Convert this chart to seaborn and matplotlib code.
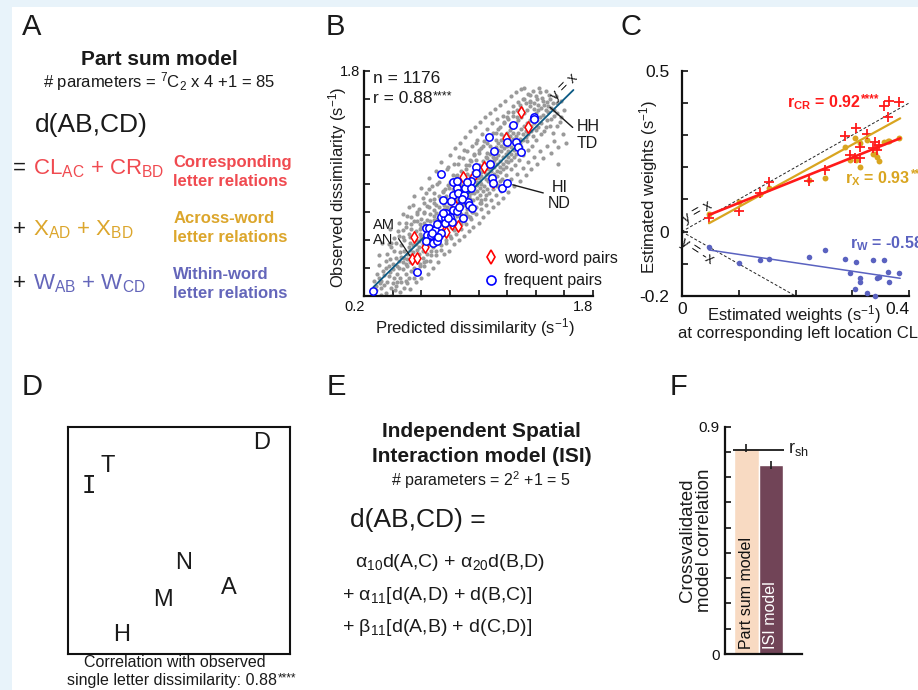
import matplotlib
matplotlib.use('Agg')
import matplotlib.pyplot as plt
from matplotlib.patches import Rectangle
from matplotlib.lines import Line2D
import numpy as np
import pandas as pd
import seaborn as sns

# ---------------- data ----------------
# Panel B: observed vs predicted dissimilarity (all pairs, grey cloud) - core of cloud
gray_pts = [
    (0.26,0.22),(0.27,0.31),
    (0.28,0.27),(0.29,0.36),(0.28,0.24),
    (0.30,0.33),(0.31,0.29),(0.30,0.42),
    (0.32,0.26),(0.33,0.38),(0.32,0.31),
    (0.34,0.35),(0.35,0.45),(0.34,0.28),(0.35,0.40),
    (0.36,0.30),(0.37,0.41),(0.36,0.50),(0.37,0.34),
    (0.38,0.37),(0.39,0.26),(0.38,0.46),(0.39,0.55),
    (0.40,0.43),(0.41,0.33),(0.40,0.39),(0.41,0.52),(0.40,0.29),
    (0.42,0.47),(0.43,0.36),(0.42,0.58),(0.43,0.41),(0.42,0.27),
    (0.44,0.40),(0.45,0.51),(0.44,0.45),(0.45,0.33),(0.44,0.63),
    (0.46,0.48),(0.47,0.39),(0.46,0.56),(0.47,0.44),(0.46,0.30),(0.47,0.67),
    (0.48,0.52),(0.49,0.43),(0.48,0.60),(0.49,0.36),(0.48,0.47),(0.49,0.72),
    (0.50,0.46),(0.51,0.55),(0.50,0.41),(0.51,0.64),(0.50,0.50),(0.51,0.33),(0.50,0.77),
    (0.52,0.58),(0.53,0.49),(0.52,0.44),(0.53,0.68),(0.52,0.53),(0.53,0.38),(0.52,0.62),
    (0.54,0.51),(0.55,0.61),(0.54,0.47),(0.55,0.73),(0.54,0.56),(0.55,0.40),(0.54,0.85),
    (0.56,0.60),(0.57,0.53),(0.56,0.66),(0.57,0.45),(0.56,0.57),(0.57,0.78),(0.56,0.36),
    (0.58,0.55),(0.59,0.64),(0.58,0.50),(0.59,0.71),(0.58,0.59),(0.59,0.43),(0.58,0.82),(0.59,0.68),
    (0.60,0.63),(0.61,0.57),(0.60,0.69),(0.61,0.52),(0.60,0.75),(0.61,0.47),(0.60,0.61),(0.61,0.90),
    (0.62,0.59),(0.63,0.67),(0.62,0.72),(0.63,0.54),(0.62,0.80),(0.63,0.63),(0.62,0.44),(0.63,0.70),
    (0.64,0.66),(0.65,0.61),(0.64,0.74),(0.65,0.57),(0.64,0.84),(0.65,0.69),(0.64,0.50),(0.65,0.96),
    (0.66,0.70),(0.67,0.64),(0.66,0.78),(0.67,0.59),(0.66,0.73),(0.67,0.52),(0.66,0.88),(0.67,0.67),
    (0.68,0.65),(0.69,0.74),(0.68,0.69),(0.69,0.81),(0.68,0.60),(0.69,0.77),(0.68,0.55),(0.69,0.93),
    (0.70,0.72),(0.71,0.67),(0.70,0.79),(0.71,0.63),(0.70,0.85),(0.71,0.75),(0.70,0.57),(0.71,1.00),(0.70,0.70),
    (0.72,0.76),(0.73,0.70),(0.72,0.83),(0.73,0.66),(0.72,0.73),(0.73,0.89),(0.72,0.60),(0.73,0.79),
    (0.74,0.71),(0.75,0.80),(0.74,0.75),(0.75,0.87),(0.74,0.68),(0.75,0.94),(0.74,0.62),(0.75,0.78),(0.74,1.06),
    (0.76,0.79),(0.77,0.73),(0.76,0.85),(0.77,0.70),(0.76,0.82),(0.77,0.91),(0.76,0.64),(0.77,0.77),
    (0.78,0.83),(0.79,0.76),(0.78,0.88),(0.79,0.72),(0.78,0.80),(0.79,0.97),(0.78,0.67),(0.79,0.86),(0.78,1.10),
    (0.80,0.81),(0.81,0.87),(0.80,0.77),(0.81,0.92),(0.80,0.74),(0.81,0.84),(0.80,1.01),(0.81,0.69),(0.80,0.89),
    (0.82,0.86),(0.83,0.79),(0.82,0.90),(0.83,0.83),(0.82,0.96),(0.83,0.75),(0.82,0.88),(0.83,1.14),(0.82,0.71),
    (0.84,0.85),(0.85,0.93),(0.84,0.81),(0.85,0.89),(0.84,1.00),(0.85,0.77),(0.84,0.87),(0.85,0.68),(0.84,1.05),
    (0.86,0.90),(0.87,0.84),(0.86,0.95),(0.87,0.88),(0.86,0.80),(0.87,1.03),(0.86,0.92),(0.87,0.74),(0.86,1.19),
    (0.88,0.93),(0.89,0.87),(0.88,0.99),(0.89,0.91),(0.88,0.83),(0.89,1.07),(0.88,0.78),(0.89,0.96),(0.88,0.71),
    (0.90,0.92),(0.91,0.97),(0.90,0.88),(0.91,1.02),(0.90,0.85),(0.91,1.10),(0.90,0.95),(0.91,0.79),(0.90,1.24),
    (0.92,0.96),(0.93,0.91),(0.92,1.01),(0.93,0.94),(0.92,0.87),(0.93,1.13),(0.92,0.82),(0.93,0.99),(0.92,1.07),
    (0.94,0.99),(0.95,0.93),(0.94,1.05),(0.95,0.97),(0.94,0.89),(0.95,1.16),(0.94,0.85),(0.95,1.02),(0.94,0.76),
    (0.96,1.01),(0.97,0.97),(0.96,1.08),(0.97,0.93),(0.96,1.03),(0.97,1.20),(0.96,0.88),(0.97,1.12),(0.96,0.80),
    (0.98,1.04),(0.99,0.99),(0.98,1.11),(0.99,0.95),(0.98,1.07),(0.99,0.90),(0.98,1.17),(0.99,1.01),(0.98,1.29),
    (1.00,1.06),(1.01,1.01),(1.00,1.13),(1.01,0.97),(1.00,1.09),(1.01,0.92),(1.00,1.22),(1.01,0.86),(1.00,1.04),
    (1.02,1.05),(1.03,1.10),(1.02,1.00),(1.03,1.16),(1.02,1.08),(1.03,0.95),(1.02,1.25),(1.03,1.13),(1.02,0.88),
    (1.04,1.09),(1.05,1.03),(1.04,1.14),(1.05,1.19),(1.04,0.98),(1.05,1.07),(1.04,1.30),(1.05,0.92),(1.04,1.11),
    (1.06,1.12),(1.07,1.07),(1.06,1.18),(1.07,1.02),(1.06,1.22),(1.07,1.10),(1.06,0.96),(1.07,1.33),
    (1.08,1.13),(1.09,1.09),(1.08,1.21),(1.09,1.05),(1.08,1.16),(1.09,0.99),(1.08,1.27),(1.09,1.11),
    (1.10,1.15),(1.11,1.12),(1.10,1.24),(1.11,1.07),(1.10,1.19),(1.11,1.02),(1.10,1.36),(1.11,1.17),
    (1.12,1.18),(1.13,1.14),(1.12,1.26),(1.13,1.09),(1.12,1.22),(1.13,1.05),(1.12,1.31),(1.13,0.98),
    (1.14,1.20),(1.15,1.16),(1.14,1.29),(1.15,1.12),(1.14,1.24),(1.15,1.08),(1.14,1.39),(1.15,1.02),
    (1.16,1.23),(1.17,1.19),(1.16,1.31),(1.17,1.14),(1.16,1.27),(1.17,1.10),(1.16,1.35),
    (1.18,1.25),(1.19,1.21),(1.18,1.34),(1.19,1.16),(1.18,1.29),(1.19,1.12),(1.18,1.43),
    (1.20,1.27),(1.21,1.23),(1.20,1.36),(1.21,1.19),(1.20,1.31),(1.21,1.15),(1.20,1.47),
    (1.22,1.30),(1.23,1.26),(1.22,1.38),(1.23,1.21),(1.22,1.34),(1.23,1.17),(1.22,1.41),
    (1.24,1.32),(1.25,1.28),(1.24,1.40),(1.25,1.24),(1.24,1.36),(1.25,1.19),(1.24,1.51),
    (1.26,1.34),(1.27,1.30),(1.26,1.43),(1.27,1.26),(1.26,1.21),(1.27,1.47),
    (1.28,1.36),(1.29,1.32),(1.28,1.45),(1.29,1.29),(1.28,1.24),(1.29,1.56),
    (1.30,1.39),(1.31,1.35),(1.30,1.47),(1.31,1.31),(1.30,1.26),(1.31,1.60),
    (1.32,1.41),(1.33,1.37),(1.32,1.50),(1.33,1.33),(1.32,1.68),
    (1.34,1.43),(1.35,1.39),(1.34,1.52),(1.35,1.35),(1.34,1.30),
    (1.36,1.45),(1.37,1.41),(1.36,1.55),(1.37,1.37),(1.36,1.63),
    (1.38,1.47),(1.39,1.43),(1.38,1.34),(1.39,1.57),
    (1.40,1.50),(1.41,1.45),(1.40,1.38),(1.41,1.60),
    (1.42,1.52),(1.43,1.47),(1.42,1.40),(1.43,1.65),
    (1.44,1.54),(1.45,1.49),(1.44,1.43),
    (1.46,1.56),(1.47,1.52),(1.46,1.37),
    (1.48,1.58),(1.49,1.51),(1.48,1.45),
    (1.50,1.60),(1.51,1.54),(1.50,1.41),
    (1.52,1.57),(1.53,1.48),
    (1.54,1.62),(1.55,1.50),
    (1.56,1.14),(1.57,1.44),
    (1.58,1.59),(1.60,1.52),
]
# intermediate ring of the grey cloud
gray_mid = [
    (0.39,0.58),(0.43,0.30),(0.47,0.62),(0.49,0.31),(0.53,0.71),(0.55,0.37),(0.57,0.73),(0.59,0.41),
    (0.615,0.79),(0.63,0.45),(0.65,0.83),(0.665,0.49),(0.685,0.86),(0.70,0.52),(0.72,0.91),(0.735,0.56),
    (0.75,0.95),(0.77,0.60),(0.785,0.99),(0.80,0.63),(0.815,1.02),(0.83,0.67),(0.85,1.06),(0.865,0.70),
    (0.88,1.09),(0.895,0.73),(0.91,1.13),(0.925,0.77),(0.94,1.17),(0.955,0.80),(0.97,1.21),(0.985,0.83),
    (1.00,1.24),(1.015,0.86),(1.03,1.27),(1.045,0.89),(1.06,1.29),(1.075,0.93),(1.09,1.33),(1.105,0.96),
    (1.12,1.36),(1.135,0.99),(1.15,1.40),(1.165,1.03),(1.18,1.44),(1.195,1.06),(1.21,1.46),(1.225,1.10),
    (1.24,1.48),(1.255,1.13),(1.27,1.52),(1.285,1.17),(1.30,1.54),(1.315,1.20),(1.33,1.57),(1.345,1.24),
    (1.36,1.59),(1.375,1.27),(1.39,1.53),(1.405,1.31),(1.42,1.56),(1.435,1.35),(1.45,1.59),(1.47,1.40),
    (1.49,1.55),(1.51,1.46),(1.53,1.52),(1.55,1.57),
]
# sparse outer fringe of the grey cloud
gray_outer = [
    (0.30,0.49),(0.32,0.21),(0.325,0.58),(0.35,0.22),
    (0.37,0.57),(0.38,0.68),(0.385,0.20),(0.41,0.61),
    (0.415,0.24),(0.44,0.72),(0.435,0.66),(0.45,0.23),
    (0.47,0.78),(0.475,0.26),(0.49,0.69),(0.50,0.29),
    (0.515,0.83),(0.52,0.25),(0.53,0.76),(0.545,0.33),
    (0.55,0.91),(0.565,0.30),(0.57,0.80),(0.58,0.37),
    (0.595,0.97),(0.60,0.33),(0.615,0.86),(0.62,0.41),
    (0.63,0.93),(0.645,0.36),(0.65,1.04),(0.66,0.45),
    (0.675,0.98),(0.68,0.40),(0.69,0.89),(0.70,0.49),
    (0.705,1.09),(0.715,0.44),(0.725,1.01),(0.735,0.53),
    (0.74,1.15),(0.755,0.50),(0.765,0.96),(0.77,0.58),
    (0.785,1.12),(0.79,0.52),(0.80,1.20),(0.805,0.61),
    (0.82,1.06),(0.825,0.57),(0.835,1.25),(0.845,0.64),
    (0.855,1.14),(0.86,0.60),(0.87,1.29),(0.875,0.68),
    (0.89,1.18),(0.895,0.63),(0.905,1.33),(0.915,0.71),
    (0.92,1.23),(0.93,0.66),(0.94,1.37),(0.945,0.75),
    (0.955,1.27),(0.96,0.69),(0.975,1.40),(0.98,0.78),
    (0.99,1.31),(1.00,0.72),(1.01,1.44),(1.015,0.82),
    (1.025,1.35),(1.035,0.76),(1.045,1.47),(1.05,0.85),
    (1.06,1.39),(1.07,0.80),(1.08,1.50),(1.09,0.88),
    (1.095,1.43),(1.105,0.83),(1.115,1.53),(1.12,0.92),
    (1.13,1.46),(1.14,0.86),(1.15,1.56),(1.16,0.95),
    (1.17,1.48),(1.175,0.90),(1.185,1.59),(1.195,0.99),
    (1.205,1.51),(1.21,0.94),(1.225,1.62),(1.23,1.03),
    (1.24,1.55),(1.25,0.98),(1.26,1.65),(1.27,1.07),
    (1.28,1.58),(1.29,1.02),(1.30,1.67),(1.31,1.11),
    (1.32,1.60),(1.33,1.06),(1.345,1.64),(1.35,1.15),
    (1.36,1.58),(1.37,1.10),(1.385,1.66),(1.39,1.19),
    (1.40,1.62),(1.41,1.14),(1.425,1.68),(1.43,1.23),
    (1.445,1.61),(1.455,1.18),(1.47,1.66),(1.48,1.27),
    (1.495,1.63),(1.505,1.22),(1.52,1.36),(1.53,1.30),
    (1.55,1.41),(1.56,1.26),(1.575,1.47),(1.59,1.35),(1.61,1.29),
]
gray_all = gray_pts + gray_mid + gray_outer
gray_pred = [p[0] for p in gray_all]
gray_obs = [p[1] for p in gray_all]

# frequent pairs (blue circles)
freq_pred = [0.263, 0.571, 0.735, 0.632, 0.656, 0.695, 0.712, 0.735, 0.765, 0.772,
             0.800, 0.637, 0.665, 0.677, 0.630, 0.684, 0.712, 0.737, 0.719, 0.765,
             0.812, 0.754, 0.824, 0.847, 0.819, 0.847, 0.859, 0.898, 0.905, 0.929,
             0.936, 0.952, 0.894, 0.824, 0.847, 0.947, 0.947, 0.980, 0.983, 1.092,
             1.111, 1.081, 1.074, 1.162, 1.202, 1.197, 1.240, 1.263, 1.279, 1.296,
             1.389, 1.389, 0.882, 0.863, 0.805, 0.789, 0.749, 0.917, 1.099]
freq_obs = [0.238, 0.368, 1.065, 0.686, 0.686, 0.669, 0.712, 0.759, 0.752, 0.788,
            0.764, 0.634, 0.634, 0.650, 0.591, 0.579, 0.593, 0.646, 0.617, 0.721,
            0.729, 0.883, 0.812, 0.807, 0.918, 0.966, 0.935, 0.918, 0.966, 0.871,
            0.847, 0.823, 0.752, 1.013, 1.018, 1.018, 0.970, 1.120, 1.072, 1.041,
            1.231, 1.139, 1.328, 0.970, 1.001, 1.297, 1.416, 1.297, 1.262, 1.226,
            1.475, 1.461, 0.887, 0.835, 0.876, 0.752, 0.788, 1.013, 1.006]
# word-word pairs (red diamonds)
word_pred = [0.550, 0.536, 0.567, 0.625, 0.672, 0.730, 0.859, 0.828, 0.889,
             0.959, 1.041, 1.104, 1.193, 1.298, 1.349, 0.812, 0.852, 0.772]
word_obs = [0.617, 0.461, 0.468, 0.551, 0.634, 0.693, 0.700, 0.854, 1.049,
            1.049, 1.120, 1.013, 1.321, 1.506, 1.404, 0.710, 0.973, 0.657]
diag_ends = [0.263, 1.665]
b_ticks = [0.2, 0.4, 0.6, 0.8, 1.0, 1.2, 1.4, 1.6, 1.8]

# Panel C: estimated weights vs CL weights
cl_w = [0.048, 0.101, 0.138, 0.153, 0.223, 0.251, 0.287, 0.296, 0.305, 0.306, 0.313,
        0.314, 0.325, 0.337, 0.340, 0.343, 0.347, 0.355, 0.363, 0.365, 0.382]
cr_w = [0.043, 0.065, 0.119, 0.154, 0.158, 0.192, 0.297, 0.238, 0.230, 0.321, 0.262,
        0.230, 0.303, 0.259, 0.280, 0.254, 0.269, 0.391, 0.355, 0.406, 0.404]
x_w = [0.055, 0.093, 0.117, 0.135, 0.160, 0.166, 0.262, 0.223, 0.292, 0.223, 0.274,
       0.200, 0.285, 0.241, 0.241, 0.233, 0.220, 0.278, 0.282, 0.282, 0.290]
w_w = [-0.047, -0.098, -0.088, -0.085, -0.078, -0.057, -0.085, -0.129, -0.178, -0.095, -0.143,
       -0.157, -0.192, -0.088, -0.200, -0.143, -0.140, -0.088, -0.124, -0.155, -0.129]
fit_x = [0.048, 0.384]
cr_fit = [0.052, 0.290]
x_fit = [0.026, 0.352]
w_fit = [-0.057, -0.145]
ident_x = [0.0, 0.4]
negident_x = [0.0, 0.2]

# Panel D: MDS letter positions
mds_letters = ['D', 'T', 'I', 'N', 'A', 'M', 'H']
mds_x = [0.873, 0.178, 0.093, 0.523, 0.727, 0.430, 0.243]
mds_y = [0.927, 0.827, 0.739, 0.402, 0.289, 0.238, 0.084]

# Panel F: crossvalidated model correlation
models = ['Part sum model', 'ISI model']
model_corr = [0.814, 0.748]
corr_lo = [0.801, 0.731]
corr_hi = [0.830, 0.764]
r_sh = 0.806

# ---------------- style ----------------
sns.set_theme(style='ticks')
plt.rcParams['font.family'] = ['Liberation Sans', 'DejaVu Sans']
plt.rcParams.update({
    'mathtext.fontset': 'custom',
    'mathtext.rm': 'Liberation Sans',
    'mathtext.it': 'Liberation Sans:italic',
    'mathtext.bf': 'Liberation Sans:bold',
    'mathtext.default': 'rm',
    'text.color': '#1a1a1a',
})

RED_A, GOLD_A, BLUE_A = '#F04A50', '#DCA62C', '#6466BA'
RED_C, GOLD_C, BLUE_C = '#FF1A1A', '#D9A520', '#5A62C0'

W, H = 918, 690
fig = plt.figure(figsize=(W / 100, H / 100), dpi=100)
fig.patch.set_facecolor('#E8F3FA')
fig.add_artist(Rectangle((12 / W, 0), 1, 1 - 7 / H, transform=fig.transFigure,
                         facecolor='white', edgecolor='none', zorder=-10))


def ftext(x, y, s, **kw):
    kw.setdefault('va', 'baseline')
    return fig.text(x / W, 1 - y / H, s, **kw)


def stars(ax, t, s, fontsize, **kw):
    """small raised significance stars right after text t"""
    return ax.annotate(s, xy=(1.0, 1.0), xycoords=t, xytext=(0.3, 0.5),
                       textcoords='offset points', ha='left', va='top',
                       fontsize=fontsize, annotation_clip=False, **kw)


def axes_px(l, t, r, b):
    return fig.add_axes([l / W, 1 - b / H, (r - l) / W, (b - t) / H])


# panel letters
for lab, x, y in [('A', 21.7, 35), ('B', 326, 35), ('C', 620, 35),
                  ('D', 21.7, 395), ('E', 327, 395), ('F', 670, 395)]:
    ftext(x, y, lab, fontsize=21)

# ---------------- Panel A (text) ----------------
ftext(159.7, 65, 'Part sum model', ha='center', fontsize=15, fontweight='bold')
ftext(159, 87.3, '# parameters = $^{7}$C$_{2}$ x 4 +1 = 85', ha='center', fontsize=12)
ftext(35, 131.7, 'd(AB,CD)', fontsize=19)
ftext(12.7, 174, '=', fontsize=16)
ftext(33.3, 174, 'CL$_{AC}$ + CR$_{BD}$', fontsize=16, color=RED_A)
ftext(173.3, 166.7, 'Corresponding', fontsize=12, fontweight='bold', color=RED_A)
ftext(173.3, 186, 'letter relations', fontsize=12, fontweight='bold', color=RED_A)
ftext(12.7, 235, '+', fontsize=16)
ftext(33.3, 235, 'X$_{AD}$ + X$_{BD}$', fontsize=16, color=GOLD_A)
ftext(173.3, 222.7, 'Across-word', fontsize=12, fontweight='bold', color=GOLD_A)
ftext(173.3, 242.3, 'letter relations', fontsize=12, fontweight='bold', color=GOLD_A)
ftext(12.7, 289.3, '+', fontsize=16)
ftext(33.3, 289.3, 'W$_{AB}$ + W$_{CD}$', fontsize=16, color=BLUE_A)
ftext(173.3, 279.3, 'Within-word', fontsize=12, fontweight='bold', color=BLUE_A)
ftext(173.3, 297.7, 'letter relations', fontsize=12, fontweight='bold', color=BLUE_A)

# ---------------- Panel B ----------------
axB = axes_px(364.3, 71, 592.7, 296)
sns.scatterplot(x=gray_pred, y=gray_obs, ax=axB, color='#9A9A9A', s=9, linewidth=0,
                legend=False, zorder=2)
sns.lineplot(x=diag_ends, y=diag_ends, ax=axB, color='#0B5A84', linewidth=1.3, zorder=3)
sns.scatterplot(x=word_pred, y=word_obs, ax=axB, marker='d', s=34, color='white',
                edgecolor='#FF0000', linewidth=1.1, legend=False, zorder=4)
sns.scatterplot(x=freq_pred, y=freq_obs, ax=axB, marker='o', s=28, color='white',
                edgecolor='#0000FF', linewidth=1.1, legend=False, zorder=5)
axB.set_xlim(0.2, 1.8)
axB.set_ylim(0.2, 1.8)
sns.despine(ax=axB)
for sp in ['left', 'bottom']:
    axB.spines[sp].set_linewidth(1.6)
    axB.spines[sp].set_color('#111111')
axB.set_xticks(b_ticks)
axB.set_xticklabels(['0.2'] + [''] * 7 + ['1.8'], ha='right')
axB.set_yticks(b_ticks)
axB.set_yticklabels([''] * 8 + ['1.8'])
axB.tick_params(direction='in', length=4, width=1.2, labelsize=10.5, pad=3, colors='#111111')
axB.set_xlabel('')
axB.set_ylabel('')
ftext(338, 187, 'Observed dissimilarity (s$^{-1}$)', rotation=90, ha='center', va='center', fontsize=12)
ftext(475, 333.5, 'Predicted dissimilarity (s$^{-1}$)', ha='center', fontsize=12)
ftext(373.3, 83.3, 'n = 1176', fontsize=12.5)
tr = ftext(373.3, 103.3, 'r = 0.88', fontsize=12.5)
stars(axB, tr, '****', 9)
axB.text(1.60, 1.69, 'y = x', rotation=45, ha='center', va='center', fontsize=10.5,
         rotation_mode='anchor')
axB.annotate('HH\nTD', xy=(1.501, 1.542), xytext=(1.69, 1.345), textcoords='data',
             ha='left', va='center', fontsize=11.5, linespacing=1.1,
             arrowprops=dict(arrowstyle='-', color='k', lw=1.0, shrinkA=1, shrinkB=0,
                             relpos=(0.0, 0.62)))
axB.annotate('HI\nND', xy=(freq_pred[44], freq_obs[44]), xytext=(1.566, 0.913),
             textcoords='data', ha='center', va='center', fontsize=11.5, linespacing=1.1,
             multialignment='center',
             arrowprops=dict(arrowstyle='-', color='k', lw=1.0, shrinkA=1, shrinkB=4,
                             relpos=(0.0, 0.55)))
axB.annotate('AM\nAN', xy=(word_pred[1], word_obs[1]), xytext=(0.263, 0.653),
             textcoords='data', ha='left', va='center', fontsize=10.5, linespacing=1.1,
             arrowprops=dict(arrowstyle='-', color='k', lw=0.9, shrinkA=0, shrinkB=3,
                             relpos=(1.0, 0.45)))
handles = [Line2D([], [], marker='d', ls='', mec='#FF0000', mfc='white', ms=7, mew=1.2),
           Line2D([], [], marker='o', ls='', mec='#0000FF', mfc='white', ms=6.5, mew=1.2)]
leg = axB.legend(handles, ['word-word pairs', 'frequent pairs'], loc='upper left',
                 bbox_to_anchor=(0.53, 0.2), frameon=False, fontsize=11.5,
                 handlelength=0.7, handletextpad=0.45, borderpad=0, borderaxespad=0,
                 labelspacing=0.45)
leg.set_clip_on(False)

# ---------------- Panel C ----------------
axC = axes_px(681.7, 70.7, 909.3, 296)
sns.lineplot(x=ident_x, y=ident_x, ax=axC, color='#222222', linewidth=0.7,
             linestyle=(0, (3, 2)), zorder=2)
sns.lineplot(x=negident_x, y=[-v for v in negident_x], ax=axC, color='#222222',
             linewidth=0.7, linestyle=(0, (3, 2)), zorder=2)
sns.scatterplot(x=cl_w, y=x_w, ax=axC, s=18, color=GOLD_C, linewidth=0, legend=False, zorder=3)
sns.scatterplot(x=cl_w, y=w_w, ax=axC, s=16, color=BLUE_C, linewidth=0, legend=False,
                zorder=3, clip_on=False)
sns.scatterplot(x=cl_w, y=cr_w, ax=axC, marker='+', s=45, color=RED_C, linewidth=1.3,
                legend=False, zorder=4)
sns.lineplot(x=fit_x, y=x_fit, ax=axC, color=GOLD_C, linewidth=1.6, zorder=5)
sns.lineplot(x=fit_x, y=cr_fit, ax=axC, color=RED_C, linewidth=1.9, zorder=6)
sns.lineplot(x=fit_x, y=w_fit, ax=axC, color=BLUE_C, linewidth=1.1, zorder=5)
axC.set_xlim(0, 0.4)
axC.set_ylim(-0.2, 0.5)
sns.despine(ax=axC)
for sp in ['left', 'bottom']:
    axC.spines[sp].set_linewidth(1.6)
    axC.spines[sp].set_color('#111111')
axC.set_yticks([-0.2, -0.1, 0, 0.1, 0.2, 0.3, 0.4, 0.5])
axC.set_yticklabels(['-0.2', '', '0', '', '', '', '', '0.5'])
axC.set_xticks([0, 0.1, 0.2, 0.3, 0.4])
axC.set_xticklabels(['0', '', '', '', '0.4'])
axC.get_xticklabels()[-1].set_ha('right')
axC.tick_params(direction='in', length=4, width=1.2, labelsize=12.5, colors='#111111')
axC.tick_params(axis='y', pad=9)
axC.tick_params(axis='x', pad=4)
axC.set_xlabel('')
axC.set_ylabel('')
axC.text(0.028, 0.062, 'y = x', rotation=30, ha='center', va='center', fontsize=10.5,
         rotation_mode='anchor')
axC.text(0.027, -0.060, 'y = -x', rotation=-33, ha='center', va='center', fontsize=10.5,
         rotation_mode='anchor')
ftext(649, 187, 'Estimated weights (s$^{-1}$)', rotation=90, ha='center', va='center', fontsize=12)
ftext(794, 320, 'Estimated weights (s$^{-1}$)', ha='center', fontsize=12)
ftext(798, 338, 'at corresponding left location CL', ha='center', fontsize=12)
t1 = ftext(786.7, 107.5, r'r$_{\mathbf{CR}}$ = 0.92', fontsize=11.5, fontweight='bold', color=RED_C)
stars(axC, t1, '****', 8.5, color=RED_C, fontweight='bold')
t2 = ftext(845, 183.3, r'r$_{\mathbf{X}}$ = 0.93', fontsize=11.5, fontweight='bold', color=GOLD_C)
stars(axC, t2, '****', 8.5, color=GOLD_C, fontweight='bold')
t3 = ftext(850, 248, r'r$_{\mathbf{W}}$ = -0.58', fontsize=11.5, fontweight='bold', color=BLUE_C)
stars(axC, t3, '*', 8.5, color=BLUE_C, fontweight='bold')

# ---------------- Panel D ----------------
axD = axes_px(67.7, 426.7, 290, 654)
axD.set_xlim(0, 1)
axD.set_ylim(0, 1)
axD.set_xticks([])
axD.set_yticks([])
for sp in axD.spines.values():
    sp.set_visible(True)
    sp.set_linewidth(1.5)
    sp.set_color('#111111')
for lt, x, y in zip(mds_letters, mds_x, mds_y):
    fam = ['DejaVu Sans Mono'] if lt == 'I' else ['Liberation Sans', 'DejaVu Sans']
    axD.text(x, y, lt, ha='center', va='center', fontsize=17, family=fam)
ftext(175, 667, 'Correlation with observed', ha='center', fontsize=11.5)
td = ftext(172, 685, 'single letter dissimilarity: 0.88', ha='center', fontsize=11.5)
stars(axD, td, '****', 8.5)

# ---------------- Panel E (text) ----------------
ftext(481.7, 437.3, 'Independent Spatial', ha='center', fontsize=15, fontweight='bold')
ftext(481.7, 462.3, 'Interaction model (ISI)', ha='center', fontsize=15, fontweight='bold')
ftext(480.8, 486, '# parameters = 2$^{2}$ +1 = 5', ha='center', fontsize=11.5)
ftext(350, 526.7, 'd(AB,CD) =', fontsize=19)
ftext(355, 566.7, r'$\alpha_{10}$d(A,C) + $\alpha_{20}$d(B,D)', fontsize=14)
ftext(341.7, 600, r'+ $\alpha_{11}$[d(A,D) + d(B,C)]', fontsize=14)
ftext(341.7, 631.7, r'+ $\beta_{11}$[d(A,B) + d(C,D)]', fontsize=14)

# ---------------- Panel F ----------------
axF = axes_px(725.3, 426.7, 801.7, 654)
dfF = pd.DataFrame({'model': models, 'corr': model_corr})
sns.barplot(data=dfF, x='model', y='corr', hue='model', palette=['#F8DAC2', '#714457'],
            width=1.0, saturation=1, errorbar=None, legend=False, ax=axF)
axF.vlines(x=[0, 1], ymin=corr_lo, ymax=corr_hi, color='k', lw=1.2, zorder=5)
axF.hlines(r_sh, -0.53, 1.55, color='k', lw=1.3, zorder=5)
axF.set_xlim(-0.855, 2.25)
axF.set_ylim(0, 0.9)
sns.despine(ax=axF)
for sp in ['left', 'bottom']:
    axF.spines[sp].set_linewidth(1.6)
    axF.spines[sp].set_color('#111111')
axF.set_yticks([0, 0.1, 0.2, 0.3, 0.4, 0.5, 0.6, 0.7, 0.8, 0.9])
axF.set_yticklabels(['0'] + [''] * 8 + ['0.9'])
axF.set_xticks([])
axF.tick_params(direction='in', length=4, width=1.2, labelsize=11, pad=4, colors='#111111')
axF.set_xlabel('')
axF.set_ylabel('')
axF.text(0, 0.02, models[0], rotation=90, ha='center', va='bottom', fontsize=11.5, color='#111111')
axF.text(1, 0.02, models[1], rotation=90, ha='center', va='bottom', fontsize=11.5, color='white')
ftext(788.3, 453.3, r'r$_{sh}$', fontsize=13)
ftext(696, 540, 'Crossvalidated\nmodel correlation', rotation=90, ha='center', va='center',
      fontsize=13.5, linespacing=0.98)

fig.savefig('out.png', dpi=100, facecolor=fig.get_facecolor())
